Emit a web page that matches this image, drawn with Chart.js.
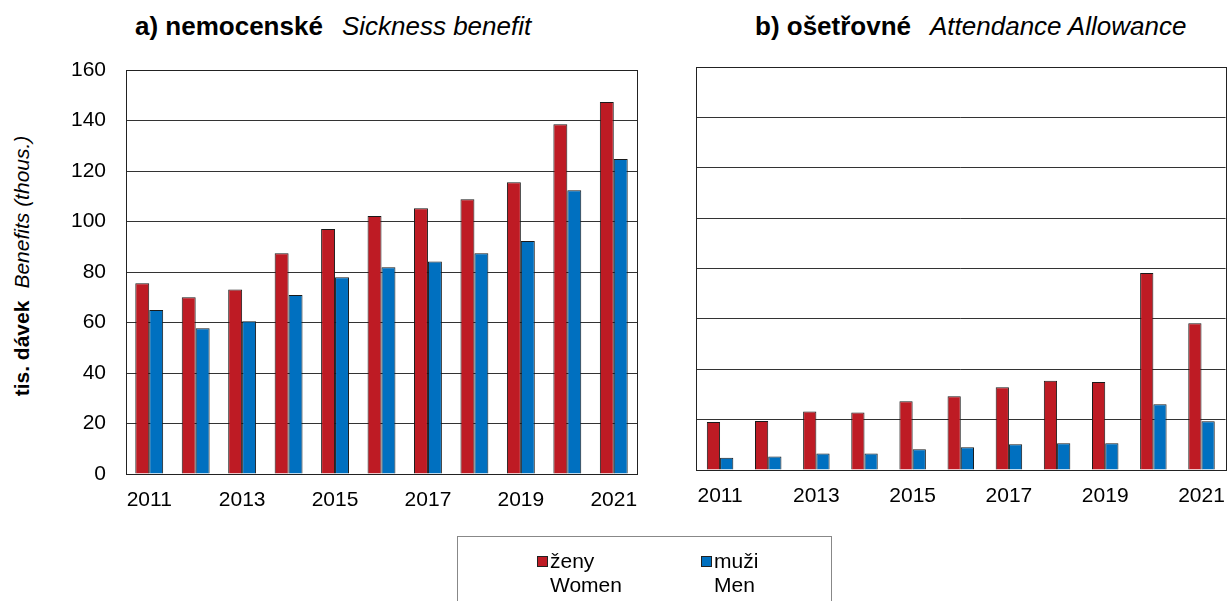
<!DOCTYPE html>
<html>
<head>
<meta charset="utf-8">
<script src="https://cdn.jsdelivr.net/npm/chart.js@4/dist/chart.umd.min.js"></script>
<style>
  body { margin:0; width:1231px; height:601px; background:#fff; position:relative; overflow:hidden;
         font-family:"Liberation Sans", Arial, sans-serif; color:#000; }
  .box { position:absolute; }
  .title { position:absolute; top:11px; font-size:26px; white-space:nowrap; }
  .title b { font-weight:bold; }
  .title i { font-style:italic; margin-left:19px; }
  #ylab { position:absolute; left:22px; top:266px; transform:translate(-50%,-50%) rotate(-90deg);
          font-size:21px; white-space:nowrap; }
  #ylab i { margin-left:12px; }
  #legend { position:absolute; left:457px; top:536px; width:373px; height:80px; border:1px solid #888; }
  .item { position:absolute; top:12px; font-size:21px; line-height:24px; }
  .sw { position:absolute; left:-13px; top:7px; width:9px; height:9px; border:1px solid #222; }
</style>
</head>
<body>
<div class="title" style="left:135px"><b>a) nemocenské</b><i>Sickness benefit</i></div>
<div class="title" style="left:755px"><b>b) ošetřovné</b><i>Attendance Allowance</i></div>
<div id="ylab"><b>tis. dávek</b><i>Benefits (thous.)</i></div>

<div class="box" style="left:0;top:0;width:660px;height:540px"><canvas id="c1"></canvas></div>
<div class="box" style="left:660px;top:0;width:571px;height:540px"><canvas id="c2"></canvas></div>

<div id="legend">
  <div class="item" style="left:92px"><span class="sw" style="background:#BE1B24"></span>ženy<br>Women</div>
  <div class="item" style="left:256px"><span class="sw" style="background:#0070C0"></span>muži<br>Men</div>
</div>

<script>
// ===== DATA =====
const years = ["2011","2012","2013","2014","2015","2016","2017","2018","2019","2020","2021"];
const sickWomen = [75.5, 70.0, 73.1, 87.4, 97.0, 102.2, 105.2, 108.8, 115.5, 138.5, 147.3];
const sickMen   = [65.0, 57.7, 60.5, 70.9, 77.9, 81.9, 84.2, 87.4, 92.3, 112.4, 124.8];
const careWomen = [19.1, 19.5, 23.2, 22.8, 27.3, 29.3, 32.9, 35.4, 34.9, 78.2, 58.3];
const careMen   = [4.9, 5.4, 6.6, 6.6, 8.2, 9.0, 10.2, 10.6, 10.6, 26.1, 19.4];
const yMax = 160, yStep = 20;

const RED = "#BE1B24", BLUE = "#0070C0";
const FONT = "'Liberation Sans', Arial, sans-serif";

// border round the plot area
const frame = {
  id: "frame",
  afterDraw(chart){
    const a = chart.chartArea, ctx = chart.ctx;
    ctx.save();
    ctx.strokeStyle = "#222";
    ctx.lineWidth = 1;
    ctx.strokeRect(Math.round(a.left)+0.5, Math.round(a.top)+0.5,
                   Math.round(a.right-a.left), Math.round(a.bottom-a.top));
    ctx.restore();
  }
};

function makeChart(id, women, men, opts){
  return new Chart(document.getElementById(id), {
    type: "bar",
    data: {
      labels: years,
      datasets: [
        {label:"ženy", data:women, backgroundColor:RED, borderColor:"#1a1a1a", borderWidth:1,
         categoryPercentage:opts.cat, barPercentage:1},
        {label:"muži", data:men, backgroundColor:BLUE, borderColor:"#1a1a1a", borderWidth:1,
         categoryPercentage:opts.cat, barPercentage:1}
      ]
    },
    options: {
      responsive: true,
      maintainAspectRatio: false,
      animation: false,
      layout: {padding: {top: opts.top, right: opts.right, left: 0, bottom: 0}},
      plugins: {legend:{display:false}, tooltip:{enabled:false}},
      scales: {
        x: {
          grid: {display:false},
          border: {display:false},
          ticks: {
            autoSkip:false, maxRotation:0, padding:opts.xpad, color:"#000",
            font:{family:FONT, size:21},
            callback: (v,i) => i%2===0 ? years[i] : ""
          },
          afterFit: s => { s.height = opts.xh; }
        },
        y: {
          min: 0, max: yMax,
          grid: {color:"#333", lineWidth:1, drawTicks:false},
          border: {display:false},
          ticks: {stepSize:yStep, padding:20, color:"#000", display:opts.yTicks,
                  font:{family:FONT, size:21}},
          afterFit: s => { s.width = opts.yw; }
        }
      }
    },
    plugins: [frame]
  });
}

makeChart("c1", sickWomen, sickMen, {cat:0.6, top:70, right:23, xh:66, yw:126, yTicks:true, xpad:6});
makeChart("c2", careWomen, careMen, {cat:0.55, top:67, right:3, xh:70, yw:36, yTicks:false, xpad:6});
</script>
</body>
</html>
